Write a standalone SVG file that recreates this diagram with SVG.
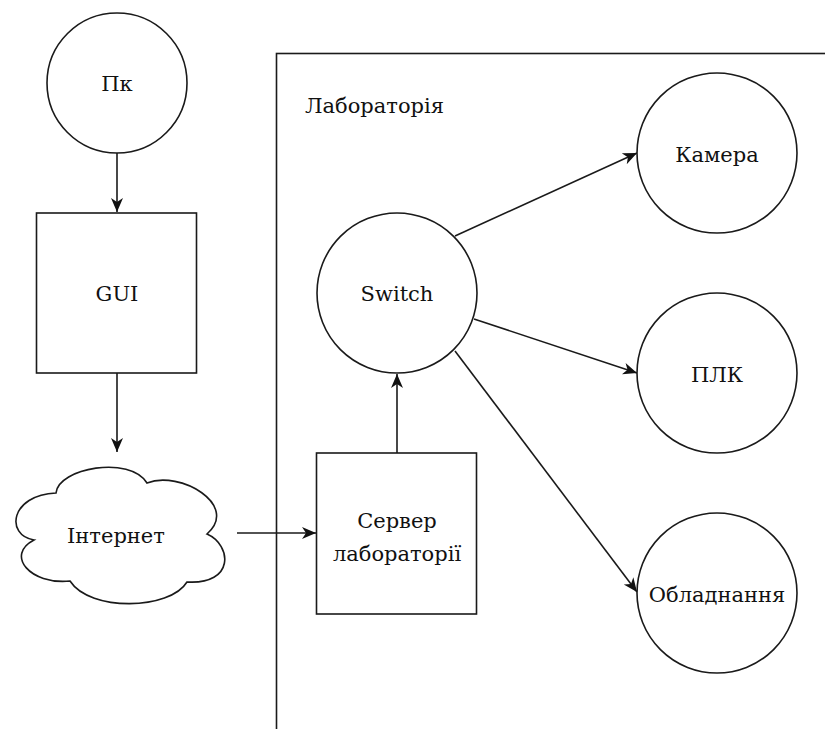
<svg xmlns="http://www.w3.org/2000/svg" width="825" height="729" viewBox="0 0 825 729">
  <style>
    .shape { fill: #ffffff; stroke: #1a1a1a; stroke-width: 1.6; }
    .frame { fill: none; stroke: #1a1a1a; stroke-width: 1.6; }
    .edge { fill: none; stroke: #1a1a1a; stroke-width: 1.6; marker-end: url(#arrow); }
    .label { font-family: "DejaVu Serif", "Liberation Serif", serif; font-size: 21px; fill: #111111; text-anchor: middle; }
    .title { font-family: "DejaVu Serif", "Liberation Serif", serif; font-size: 21px; fill: #111111; }
  </style>
  <defs>
    <marker id="arrow" markerUnits="userSpaceOnUse" markerWidth="16" markerHeight="14" refX="14" refY="7" orient="auto">
      <path d="M0,1 L14,7 L0,13 L4,7 z" fill="#111111"/>
    </marker>
  </defs>

  <!-- Laboratory boundary (open to the right and bottom) -->
  <g id="lab">
    <rect class="frame" x="276.5" y="53.5" width="620" height="720"/>
    <text class="title" x="305" y="113">Лабораторія</text>
  </g>

  <g id="connectors">
    <line class="edge" x1="117" y1="153" x2="117" y2="212"/>
    <line class="edge" x1="117" y1="373" x2="117" y2="452"/>
    <line class="edge" x1="237" y1="533" x2="316" y2="533"/>
    <line class="edge" x1="397" y1="453" x2="397" y2="374"/>
    <line class="edge" x1="455" y1="236" x2="637" y2="153"/>
    <line class="edge" x1="474" y1="319" x2="637" y2="373"/>
    <line class="edge" x1="455" y1="351" x2="637" y2="592"/>
  </g>

  <g id="pc">
    <circle class="shape" cx="117" cy="83" r="70"/>
    <text class="label" x="117" y="91">Пк</text>
  </g>

  <g id="gui">
    <rect class="shape" x="36.5" y="213" width="160" height="160"/>
    <text class="label" x="117" y="301">GUI</text>
  </g>

  <g id="internet">
    <path class="shape" d="M56,493 C58,468 130,455 147,483 C180,470 240,505 207,534 C232,545 235,585 187,582 C170,610 90,612 70,581 C30,585 5,555 34,540 C5,535 10,495 56,493 Z"/>
    <text class="label" x="116" y="543">Інтернет</text>
  </g>

  <g id="server">
    <rect class="shape" x="316.5" y="453" width="160" height="161"/>
    <text class="label" x="397" y="528">Сервер</text>
    <text class="label" x="397" y="561">лабораторії</text>
  </g>

  <g id="switch">
    <circle class="shape" cx="397" cy="293" r="80"/>
    <text class="label" x="397" y="301">Switch</text>
  </g>

  <g id="camera">
    <circle class="shape" cx="717" cy="153" r="80"/>
    <text class="label" x="717" y="162">Камера</text>
  </g>

  <g id="plc">
    <circle class="shape" cx="717" cy="373" r="80"/>
    <text class="label" x="717" y="382">ПЛК</text>
  </g>

  <g id="equipment">
    <circle class="shape" cx="717" cy="593" r="80"/>
    <text class="label" x="717" y="602">Обладнання</text>
  </g>
</svg>
